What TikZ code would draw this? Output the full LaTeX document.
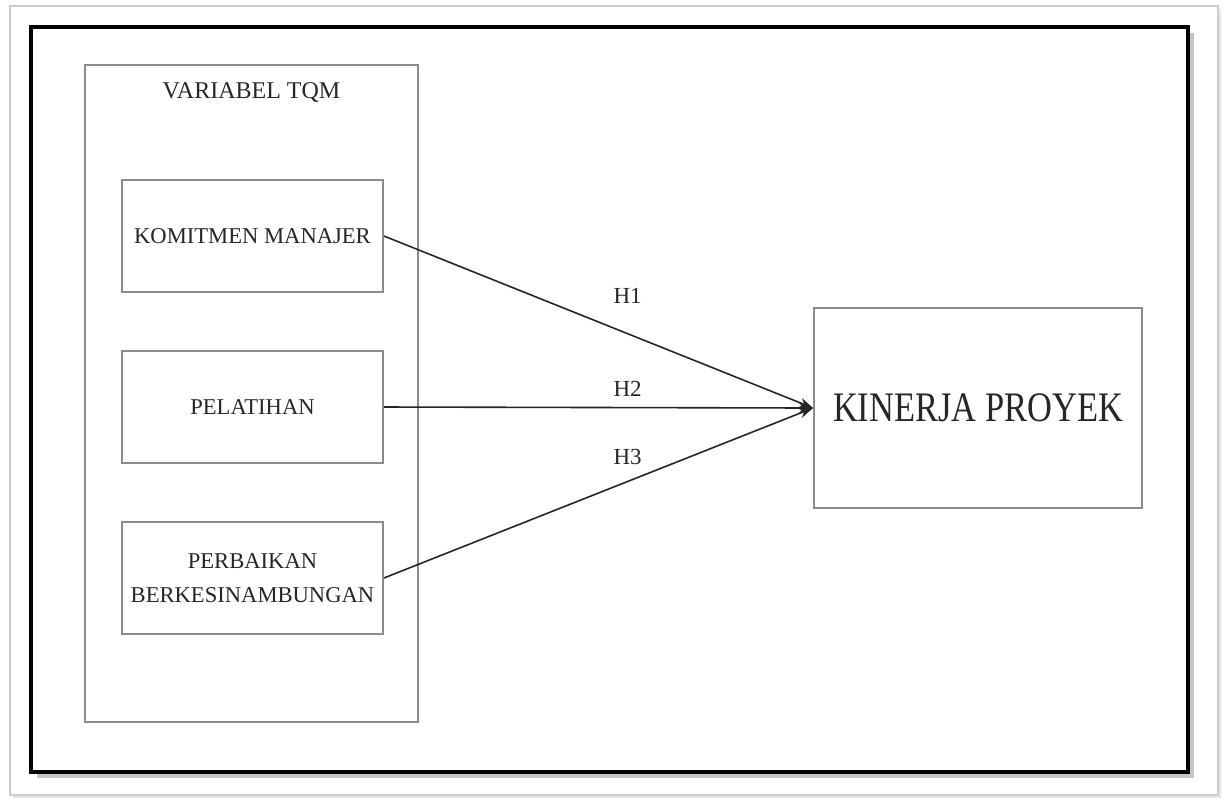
\documentclass[tikz,border=0pt]{standalone}
\usepackage{fontspec}
\setmainfont{Liberation Serif}
\usetikzlibrary{positioning,shadows,arrows.meta}

\begin{document}
\begin{tikzpicture}[x=0.5pt,y=-0.5pt,node distance=85.5pt,on grid,
   box/.style={draw=black!45,line width=0.9pt,minimum width=130.5pt,minimum height=56pt,
     align=center,text=black!85,font=\fontsize{11.3}{17}\selectfont,inner sep=2pt},
   lbl/.style={text=black!85,font=\fontsize{11.5}{13}\selectfont,inner sep=0pt},
   panah/.style={-{Stealth[length=7pt,width=5pt]},line width=0.8pt,black!85}]
   \useasboundingbox (0,0) rectangle (1224,800);
   % bingkai luar
   \draw[black!20,line width=0.8pt,fill=white,drop shadow={shadow xshift=1.5pt,shadow yshift=-1.5pt,opacity=0.2}]
     (10,6) rectangle (1218,795);
   \draw[black,line width=2.3pt,fill=white,drop shadow={shadow xshift=3pt,shadow yshift=-3pt,opacity=0.45}]
     (31,27) rectangle (1188,772);
   % kelompok variabel TQM
   \node[draw=black!45,line width=0.9pt,minimum width=166.5pt,minimum height=328.5pt] (tqm) at (251.5,393.5) {};
   \node[lbl,font=\fontsize{12}{14}\selectfont] (judul) at (251.5,92) {VARIABEL TQM};
   \node[box] (km) at (252.5,236) {KOMITMEN MANAJER};
   \node[box] (pl) [below=of km] {PELATIHAN};
   \node[box] (pb) [below=of pl] {PERBAIKAN\\BERKESINAMBUNGAN};
   \node[box,minimum width=164pt,minimum height=100pt] (kp) at (978,408)
     {\fontsize{21}{24}\selectfont\scalebox{0.82}[1]{KINERJA PROYEK}};
   \path[panah]
    (km.east) edge node[lbl,pos=0.568,above=14.5pt] {H1} (kp.west)
    (pl.east) edge node[lbl,pos=0.568,above=5pt] {H2} (kp.west)
    (pb.east) edge node[lbl,pos=0.568,above=8pt] {H3} (kp.west);
\end{tikzpicture}
\end{document}
